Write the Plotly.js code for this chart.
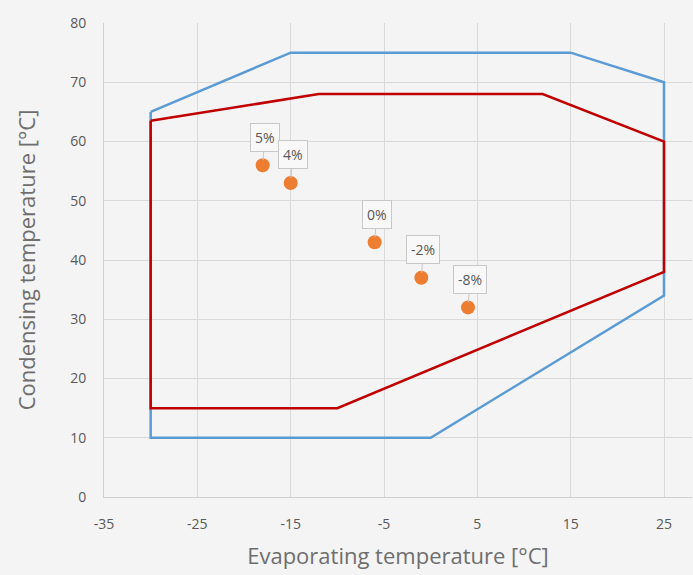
<!DOCTYPE html>
<html><head><meta charset="utf-8">
<script src="https://cdn.plot.ly/plotly-3.0.1.min.js"></script>
<style>html,body{margin:0;padding:0;background:#f4f4f4;}</style>
</head><body><div id="chart" style="width:693px;height:575px;"></div>
<script>
const blueX = [-30, -15, 15, 25, 25, 0, -30, -30];
const blueY = [65, 75, 75, 70, 34, 10, 10, 65];
const redX = [-30, -12, 12, 25, 25, -10, -30, -30];
const redY = [63.5, 68, 68, 60, 38, 15, 15, 63.5];
const ptX = [-18, -15, -6, -1, 4];
const ptY = [56, 53, 43, 37, 32];
const ptLabels = ['5%', '4%', '0%', '-2%', '-8%'];
const xTicks = [-35, -25, -15, -5, 5, 15, 25];
const yTicks = [0, 10, 20, 30, 40, 50, 60, 70, 80];

const traces = [
  {x: blueX, y: blueY, mode: 'lines', line: {color: '#5B9BD5', width: 2.5}, hoverinfo: 'none'},
  {x: redX, y: redY, mode: 'lines', line: {color: '#C00000', width: 2.5}, hoverinfo: 'none'},
  {x: ptX, y: ptY, mode: 'markers', marker: {color: '#ED7D31', size: 14}, hoverinfo: 'none'}
];
const annotations = ptX.map((x, i) => ({
  x: x, y: ptY[i], xref: 'x', yref: 'y', text: ptLabels[i],
  showarrow: true, arrowhead: 0, arrowwidth: 1, arrowcolor: '#c8c8c8',
  ax: 2, ay: -28, standoff: 5,
  bgcolor: '#f8f8f8', bordercolor: '#c8c8c8', borderwidth: 1, borderpad: 4,
  font: {family: 'Open Sans', size: 14, color: '#595959'}
}));
const layout = {
  width: 693, height: 575,
  margin: {l: 104, r: 1, t: 23, b: 78},
  paper_bgcolor: '#f4f4f4', plot_bgcolor: '#f4f4f4',
  showlegend: false,
  font: {family: 'Open Sans', color: '#595959'},
  xaxis: {
    range: [-35, 28], tickvals: xTicks, ticktext: xTicks.map(String),
    showgrid: true, gridcolor: '#d9d9d9', gridwidth: 1, zeroline: false,
    showline: true, linecolor: '#d0d0d0', linewidth: 1,
    ticks: 'outside', ticklen: 14, tickcolor: 'rgba(0,0,0,0)',
    tickfont: {size: 14, color: '#595959'},
    title: {text: 'Evaporating temperature [°C]', font: {size: 22, color: '#6e6e6e'}, standoff: 16}
  },
  yaxis: {
    range: [0, 80], tickvals: yTicks, ticktext: yTicks.map(String),
    showgrid: true, gridcolor: '#d9d9d9', gridwidth: 1, zeroline: false,
    showline: true, linecolor: '#d0d0d0', linewidth: 1,
    ticks: 'outside', ticklen: 14, tickcolor: 'rgba(0,0,0,0)',
    tickfont: {size: 14, color: '#595959'},
    title: {text: 'Condensing temperature [°C]', font: {size: 22, color: '#6e6e6e'}, standoff: 28}
  },
  annotations: annotations
};
Plotly.newPlot('chart', traces, layout, {displayModeBar: false, staticPlot: true});
</script></body></html>
